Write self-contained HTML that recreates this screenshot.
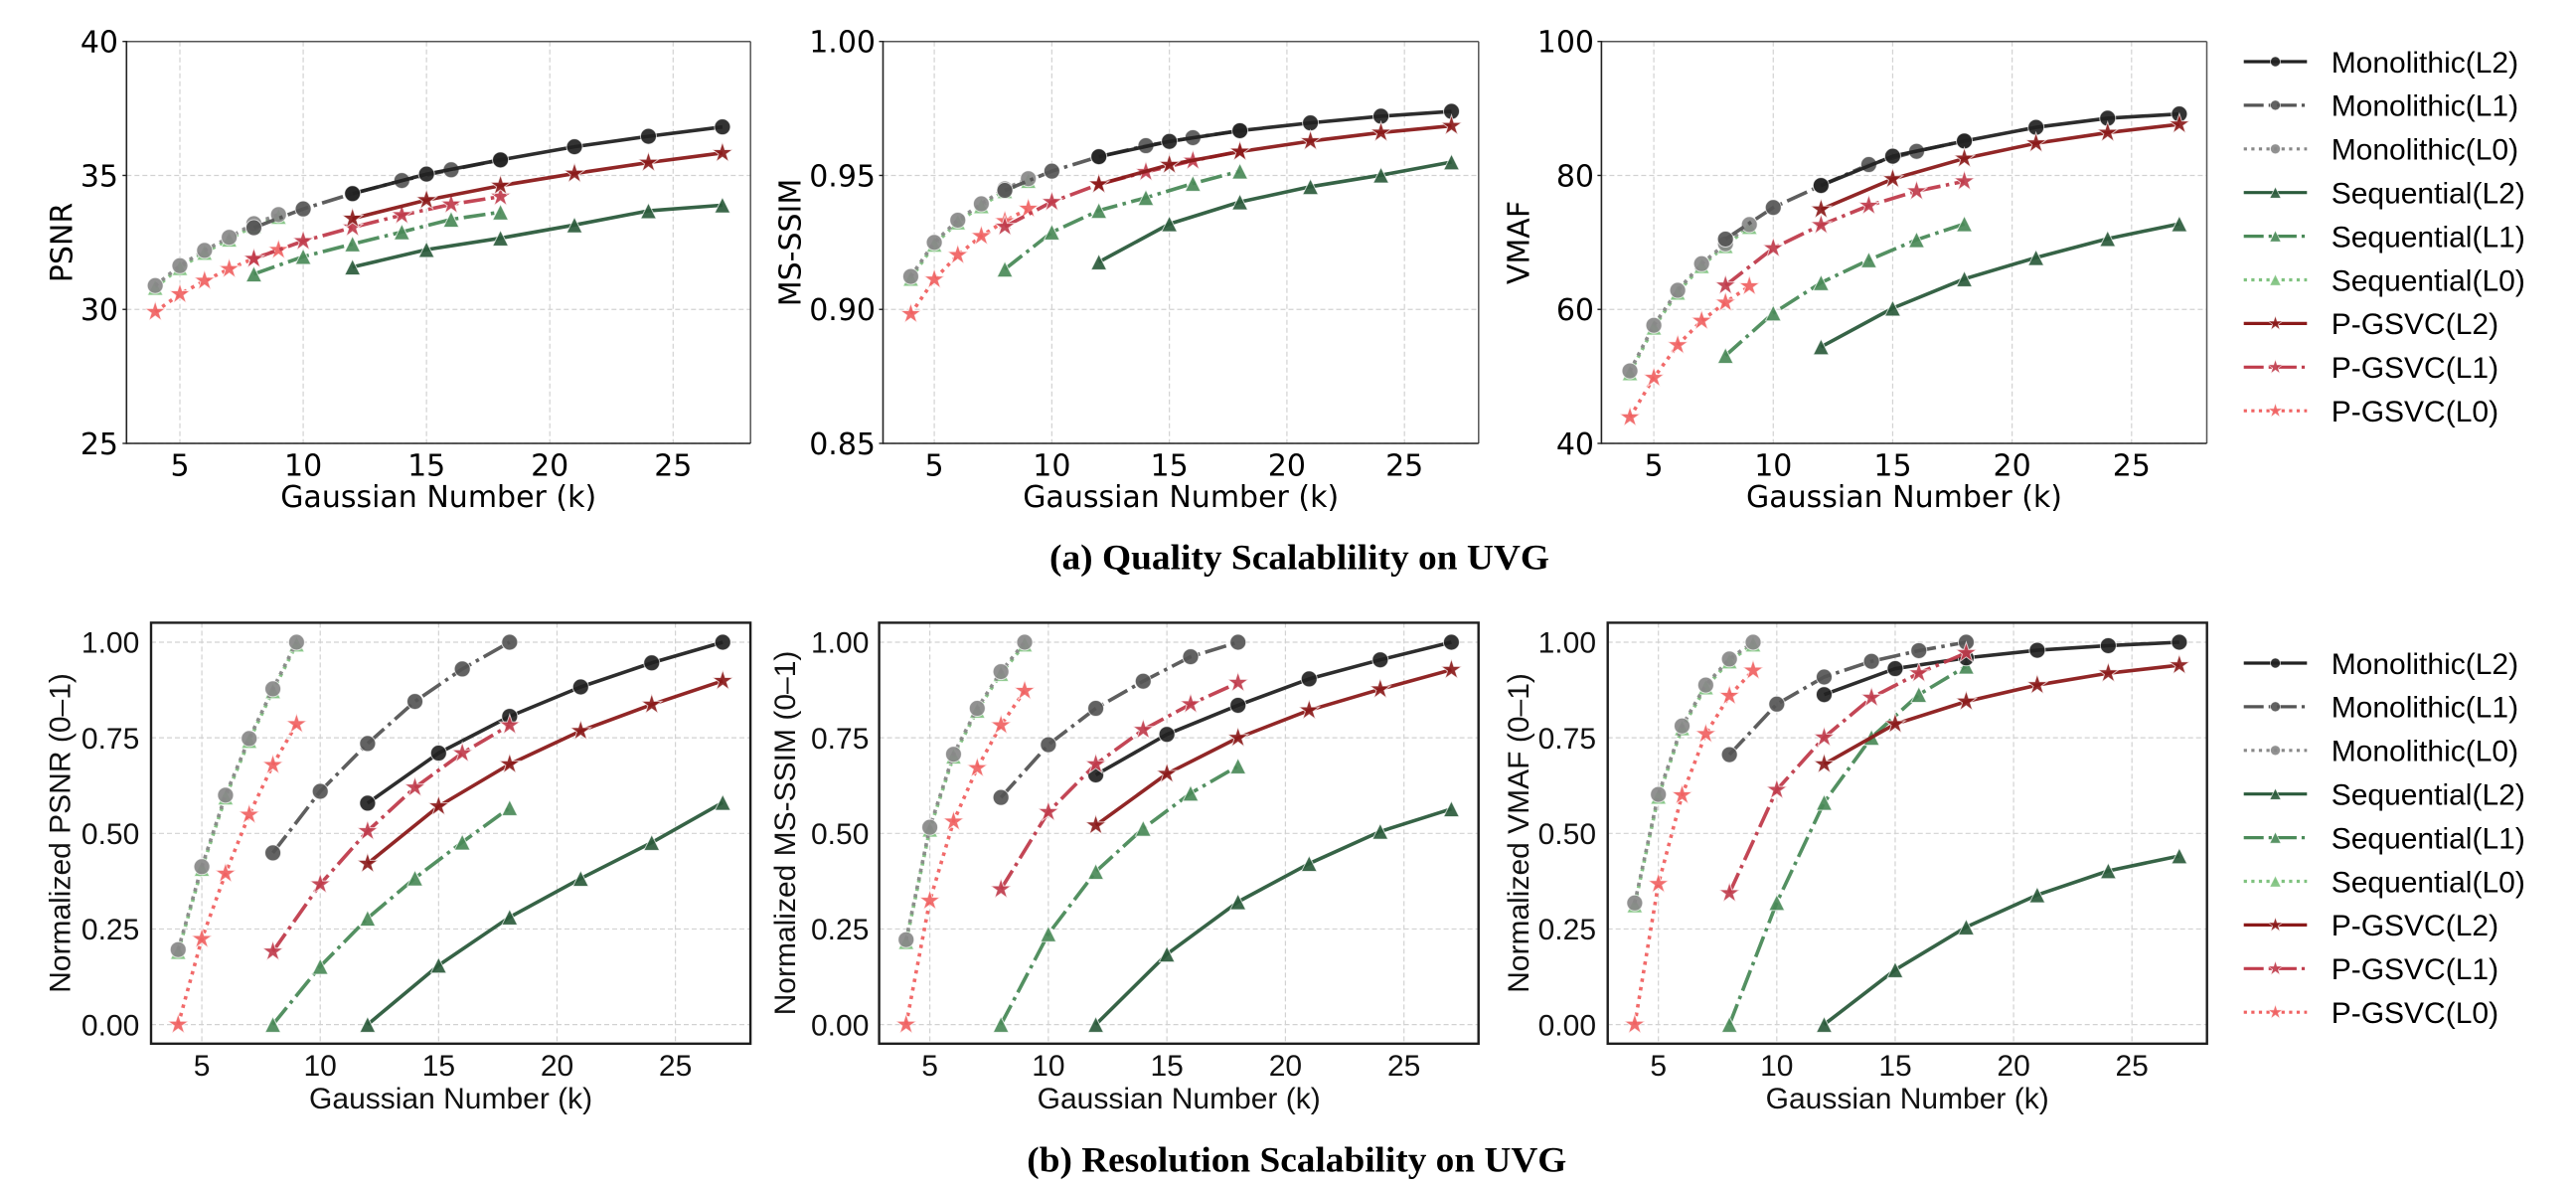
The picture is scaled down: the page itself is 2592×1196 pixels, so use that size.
<!DOCTYPE html>
<html>
<head>
<meta charset="utf-8">
<style>
html,body{margin:0;padding:0;background:#fff;}
svg{display:block;}
.dj{font-family:"DejaVu Sans","Liberation Sans",sans-serif;font-size:30px;fill:#000;}
.ls{font-family:"Liberation Sans","DejaVu Sans",sans-serif;font-size:30px;fill:#111;}
.lg{font-family:"Liberation Sans","DejaVu Sans",sans-serif;font-size:30px;fill:#000;}
.tt{font-family:"Liberation Serif","DejaVu Serif",serif;font-weight:bold;font-size:36px;fill:#000;}
</style>
</head>
<body>
<svg id="s" width="2592" height="1196" viewBox="0 0 2592 1196" xmlns="http://www.w3.org/2000/svg">
<rect x="0" y="0" width="2592" height="1196" fill="#fff"/>
<g id="g"></g>

<!-- ===== Top panels text (DejaVu Sans) ===== -->
<g class="dj" text-anchor="end">
  <text x="119" y="52.6">40</text>
  <text x="119" y="187.5">35</text>
  <text x="119" y="322.2">30</text>
  <text x="119" y="456.9">25</text>

  <text x="881" y="52.6">1.00</text>
  <text x="881" y="187.5">0.95</text>
  <text x="881" y="322.2">0.90</text>
  <text x="881" y="456.9">0.85</text>

  <text x="1604" y="52.6">100</text>
  <text x="1604" y="187.5">80</text>
  <text x="1604" y="322.2">60</text>
  <text x="1604" y="456.9">40</text>
</g>
<g class="dj" text-anchor="middle">
  <text x="181" y="478.4">5</text>
  <text x="305.1" y="478.4">10</text>
  <text x="429.2" y="478.4">15</text>
  <text x="553.2" y="478.4">20</text>
  <text x="677.3" y="478.4">25</text>
  <text x="441.2" y="510">Gaussian Number (k)</text>

  <text x="940.1" y="478.4">5</text>
  <text x="1058.4" y="478.4">10</text>
  <text x="1176.6" y="478.4">15</text>
  <text x="1294.9" y="478.4">20</text>
  <text x="1413.2" y="478.4">25</text>
  <text x="1188.2" y="510">Gaussian Number (k)</text>

  <text x="1664.1" y="478.4">5</text>
  <text x="1784.3" y="478.4">10</text>
  <text x="1904.5" y="478.4">15</text>
  <text x="2024.6" y="478.4">20</text>
  <text x="2144.8" y="478.4">25</text>
  <text x="1916" y="510">Gaussian Number (k)</text>

  <text transform="translate(72.7,244) rotate(-90)">PSNR</text>
  <text transform="translate(805.4,244) rotate(-90)">MS-SSIM</text>
  <text transform="translate(1538.3,244) rotate(-90)">VMAF</text>
</g>

<!-- ===== Bottom panels text (Liberation Sans) ===== -->
<g class="ls" text-anchor="end">
  <text x="140.3" y="656.7">1.00</text>
  <text x="140.3" y="752.9">0.75</text>
  <text x="140.3" y="849">0.50</text>
  <text x="140.3" y="945.2">0.25</text>
  <text x="140.3" y="1041.3">0.00</text>

  <text x="874.4" y="656.7">1.00</text>
  <text x="874.4" y="752.9">0.75</text>
  <text x="874.4" y="849">0.50</text>
  <text x="874.4" y="945.2">0.25</text>
  <text x="874.4" y="1041.3">0.00</text>

  <text x="1606" y="656.7">1.00</text>
  <text x="1606" y="752.9">0.75</text>
  <text x="1606" y="849">0.50</text>
  <text x="1606" y="945.2">0.25</text>
  <text x="1606" y="1041.3">0.00</text>
</g>
<g class="ls" text-anchor="middle">
  <text x="203.1" y="1082">5</text>
  <text x="322.2" y="1082">10</text>
  <text x="441.4" y="1082">15</text>
  <text x="560.5" y="1082">20</text>
  <text x="679.6" y="1082">25</text>
  <text x="453.6" y="1115">Gaussian Number (k)</text>

  <text x="935.6" y="1082">5</text>
  <text x="1054.9" y="1082">10</text>
  <text x="1174.2" y="1082">15</text>
  <text x="1293.4" y="1082">20</text>
  <text x="1412.7" y="1082">25</text>
  <text x="1186.2" y="1115">Gaussian Number (k)</text>

  <text x="1668.7" y="1082">5</text>
  <text x="1787.8" y="1082">10</text>
  <text x="1907" y="1082">15</text>
  <text x="2026.1" y="1082">20</text>
  <text x="2145.2" y="1082">25</text>
  <text x="1919.2" y="1115">Gaussian Number (k)</text>

  <text transform="translate(70.5,838) rotate(-90)">Normalized PSNR (0–1)</text>
  <text transform="translate(800,838) rotate(-90)">Normalized MS-SSIM (0–1)</text>
  <text transform="translate(1538,838) rotate(-90)">Normalized VMAF (0–1)</text>
</g>

<!-- ===== Legends ===== -->
<g class="lg">
  <text x="2345.7" y="72.8">Monolithic(L2)</text>
  <text x="2345.7" y="116.7">Monolithic(L1)</text>
  <text x="2345.7" y="160.6">Monolithic(L0)</text>
  <text x="2345.7" y="204.5">Sequential(L2)</text>
  <text x="2345.7" y="248.4">Sequential(L1)</text>
  <text x="2345.7" y="292.3">Sequential(L0)</text>
  <text x="2345.7" y="336.2">P-GSVC(L2)</text>
  <text x="2345.7" y="380.1">P-GSVC(L1)</text>
  <text x="2345.7" y="424">P-GSVC(L0)</text>

  <text x="2345.7" y="677.8">Monolithic(L2)</text>
  <text x="2345.7" y="721.7">Monolithic(L1)</text>
  <text x="2345.7" y="765.6">Monolithic(L0)</text>
  <text x="2345.7" y="809.5">Sequential(L2)</text>
  <text x="2345.7" y="853.4">Sequential(L1)</text>
  <text x="2345.7" y="897.3">Sequential(L0)</text>
  <text x="2345.7" y="941.2">P-GSVC(L2)</text>
  <text x="2345.7" y="985.1">P-GSVC(L1)</text>
  <text x="2345.7" y="1029">P-GSVC(L0)</text>
</g>

<!-- ===== Captions ===== -->
<text class="tt" x="1056" y="572.7" textLength="503" lengthAdjust="spacingAndGlyphs">(a) Quality Scalablility on UVG</text>
<text class="tt" x="1033.3" y="1178.7" textLength="543" lengthAdjust="spacingAndGlyphs">(b) Resolution Scalability on UVG</text>
</svg>

<script>
(function(){
const NS="http://www.w3.org/2000/svg";
const root=document.getElementById('g');
function el(t,a,p){const e=document.createElementNS(NS,t);for(const k in a)e.setAttribute(k,a[k]);(p||root).appendChild(e);return e;}
const X={L0:[4,5,6,7,8,9],L1:[8,10,12,14,16,18],L2:[12,15,18,21,24,27]};
const ST={
 ML2:['#222222','s','o','L2'], ML1:['#555555','dd','o','L1'], ML0:['#888888','dot','o','L0'],
 SL2:['#2b5b3c','s','^','L2'], SL1:['#4a8a58','dd','^','L1'], SL0:['#7fc27f','dot','^','L0'],
 PL2:['#8b1a1a','s','*','L2'], PL1:['#c03c4c','dd','*','L1'], PL0:['#f06262','dot','*','L0']
};
function dash(d){return d==='dd'?'22 5.5 3.5 5.5':(d==='dot'?'3.5 5.2':'none');}
function mk(type,x,y,sz,col,p,sw){
  if(type==='o'){el('circle',{cx:x,cy:y,r:sz,fill:col,'fill-opacity':0.92,stroke:'#fff','stroke-opacity':0.7,'stroke-width':sw},p);}
  else if(type==='^'){const h=sz;el('polygon',{points:(x)+','+(y-h)+' '+(x-h)+','+(y+h)+' '+(x+h)+','+(y+h),fill:col,'fill-opacity':0.92,stroke:'#fff','stroke-opacity':0.7,'stroke-width':sw},p);}
  else{let pts=[];const R=sz,r=sz*0.382;for(let i=0;i<10;i++){const a=-Math.PI/2+i*Math.PI/5;const rr=(i%2===0)?R:r;pts.push((x+rr*Math.cos(a)).toFixed(2)+','+(y+rr*Math.sin(a)).toFixed(2));}
    el('polygon',{points:pts.join(' '),fill:col,'fill-opacity':0.92,stroke:'#fff','stroke-opacity':0.7,'stroke-width':sw,'stroke-linejoin':'miter'},p);}
}
const T={fy0:41.7,fy1:446}, B={fy0:626.4,fy1:1049.8};
const panels=[
 {fx0:127.3,fx1:755.2,fy0:T.fy0,fy1:T.fy1,xa:181,xb:677.3,va:40,ya:41.7,vb:25,yb:446,yt:[40,35,30,25],top:true,
  d:{ML2:[34.32,35.05,35.58,36.07,36.46,36.81],ML1:[33.05,33.75,34.32,34.81,35.21,35.58],ML0:[30.89,31.63,32.2,32.69,33.2,33.54],
     SL2:[31.58,32.23,32.66,33.15,33.68,33.89],SL1:[31.32,31.97,32.44,32.89,33.36,33.63],
     PL2:[33.39,34.08,34.62,35.07,35.48,35.84],PL1:[31.89,32.55,33.06,33.52,33.92,34.21],PL0:[29.91,30.57,31.07,31.51,31.9,32.22]}},
 {fx0:888.5,fx1:1487.8,fy0:T.fy0,fy1:T.fy1,xa:940.1,xb:1413.2,va:1.0,ya:41.7,vb:0.85,yb:446,yt:[1.0,0.95,0.9,0.85],top:true,
  d:{ML2:[.957,.9627,.9667,.9696,.9721,.9739],ML1:[.9444,.9516,.957,.9611,.9641,.9667],ML0:[.9123,.925,.9333,.9394,.945,.9488],
     SL2:[.9177,.9319,.9401,.9458,.9501,.955],SL1:[.915,.9288,.9369,.9417,.947,.9516],
     PL2:[.9467,.954,.9589,.9628,.966,.9685],PL1:[.9309,.9401,.9467,.9513,.9555,.959],PL0:[.8983,.9112,.9203,.9274,.933,.9376]}},
 {fx0:1611.4,fx1:2220.5,fy0:T.fy0,fy1:T.fy1,xa:1664.1,xb:2144.8,va:100,ya:41.7,vb:40,yb:446,yt:[100,80,60,40],top:true,
  d:{ML2:[78.5,82.87,85.14,87.18,88.54,89.17],ML1:[70.5,75.21,78.5,81.62,83.6,85.14],ML0:[50.82,57.63,62.85,66.82,69.8,72.66],
     SL2:[54.4,60.18,64.55,67.73,70.56,72.77],SL1:[53.1,59.44,63.98,67.38,70.39,72.77],
     PL2:[74.93,79.47,82.53,84.8,86.39,87.63],PL1:[63.58,69.14,72.6,75.5,77.65,79.13],PL0:[43.9,49.8,54.68,58.31,61.03,63.47]}},
 {fx0:152,fx1:755.1,fy0:B.fy0,fy1:B.fy1,xa:203.1,xb:679.6,va:1,ya:646,vb:0,yb:1030.6,yt:[1,.75,.5,.25,0],top:false,
  d:{ML0:[.196,.413,.6,.748,.878,1],ML1:[.449,.61,.735,.845,.93,1],ML2:[.579,.71,.806,.883,.946,1],
     SL2:[0,.155,.281,.382,.476,.581],SL1:[0,.152,.278,.383,.477,.567],
     PL2:[.421,.571,.681,.768,.837,.899],PL1:[.191,.367,.506,.62,.71,.783],PL0:[0,.224,.395,.549,.679,.786]}},
 {fx0:884.6,fx1:1487.7,fy0:B.fy0,fy1:B.fy1,xa:935.6,xb:1412.7,va:1,ya:646,vb:0,yb:1030.6,yt:[1,.75,.5,.25,0],top:false,
  d:{ML0:[.222,.516,.707,.827,.923,1],ML1:[.594,.732,.827,.898,.962,1],ML2:[.653,.759,.835,.904,.954,1],
     SL2:[0,.184,.321,.421,.505,.564],SL1:[0,.237,.4,.513,.605,.676],
     PL2:[.521,.656,.75,.822,.877,.928],PL1:[.354,.556,.681,.771,.838,.894],PL0:[0,.324,.531,.671,.783,.873]}},
 {fx0:1617.7,fx1:2220.7,fy0:B.fy0,fy1:B.fy1,xa:1668.7,xb:2145.2,va:1,ya:646,vb:0,yb:1030.6,yt:[1,.75,.5,.25,0],top:false,
  d:{ML0:[.318,.602,.781,.888,.956,1],ML1:[.706,.838,.909,.95,.978,1],ML2:[.863,.931,.959,.979,.991,1],
     SL2:[0,.143,.255,.339,.402,.441],SL1:[0,.319,.581,.751,.863,.937],
     PL2:[.681,.786,.845,.888,.919,.94],PL1:[.344,.614,.751,.855,.919,.972],PL0:[0,.368,.6,.76,.86,.926]}}
];
const order=['SL0','SL1','SL2','ML0','ML1','ML2','PL0','PL1','PL2'];
panels.forEach(function(p){
  const xp=k=>p.xa+(k-5)*(p.xb-p.xa)/20;
  const yp=v=>p.ya+(v-p.va)*(p.yb-p.ya)/(p.vb-p.va);
  const gg=el('g',{});
  [5,10,15,20,25].forEach(k=>{el('line',{x1:xp(k),x2:xp(k),y1:p.fy0,y2:p.fy1,stroke:'#d2d2d2','stroke-width':1.2,'stroke-dasharray':'5 3'},gg);});
  p.yt.forEach(v=>{el('line',{x1:p.fx0,x2:p.fx1,y1:yp(v),y2:yp(v),stroke:'#d2d2d2','stroke-width':1.2,'stroke-dasharray':'5 3'},gg);});
  const sg=el('g',{});
  order.forEach(key=>{
    const st=ST[key];let vals=p.d[key];let dy=0;
    if(!vals&&key==='SL0'){vals=p.d.ML0;dy=2;}
    if(!vals)return;
    const xs=X[st[3]];
    const pts=xs.map((k,i)=>[xp(k),yp(vals[i])+dy]);
    el('polyline',{points:pts.map(q=>q[0].toFixed(2)+','+q[1].toFixed(2)).join(' '),fill:'none',stroke:st[0],'stroke-width':3.6,'stroke-dasharray':dash(st[1]),'stroke-linejoin':'round','stroke-linecap':'butt','stroke-opacity':0.95},sg);
    const sz=st[2]==='o'?8:(st[2]==='^'?7.8:10.8);
    pts.forEach(q=>mk(st[2],q[0],q[1],sz,st[0],sg,1));
  });
  if(p.top){
    el('line',{x1:p.fx0,x2:p.fx1,y1:p.fy0,y2:p.fy0,stroke:'#555','stroke-width':1.5});
    el('line',{x1:p.fx1,x2:p.fx1,y1:p.fy0,y2:p.fy1,stroke:'#555','stroke-width':1.5});
    el('line',{x1:p.fx0,x2:p.fx0,y1:p.fy0-0.7,y2:p.fy1+0.7,stroke:'#222','stroke-width':1.6});
    el('line',{x1:p.fx0,x2:p.fx1,y1:p.fy1,y2:p.fy1,stroke:'#222','stroke-width':1.6});
    p.yt.forEach(v=>{el('line',{x1:p.fx0-4,x2:p.fx0,y1:yp(v),y2:yp(v),stroke:'#222','stroke-width':1.4});});
  } else {
    el('rect',{x:p.fx0,y:p.fy0,width:p.fx1-p.fx0,height:p.fy1-p.fy0,fill:'none',stroke:'#1e1e1e','stroke-width':2.4});
  }
});
/* legends */
const lkeys=['ML2','ML1','ML0','SL2','SL1','SL0','PL2','PL1','PL0'];
[62,667].forEach(y0=>{
  lkeys.forEach((key,i)=>{
    const st=ST[key];const y=y0+i*43.9;
    el('line',{x1:2257.7,x2:2321.3,y1:y,y2:y,stroke:st[0],'stroke-width':3.2,'stroke-dasharray':st[1]==='dd'?'20 5 3.2 5':(st[1]==='dot'?'3.2 4.4':'none')});
    const sz=st[2]==='o'?5:(st[2]==='^'?5.6:7.8);
    mk(st[2],2289.5,y,sz,st[0],root,0.8);
  });
});
})();
</script>
</body>
</html>
